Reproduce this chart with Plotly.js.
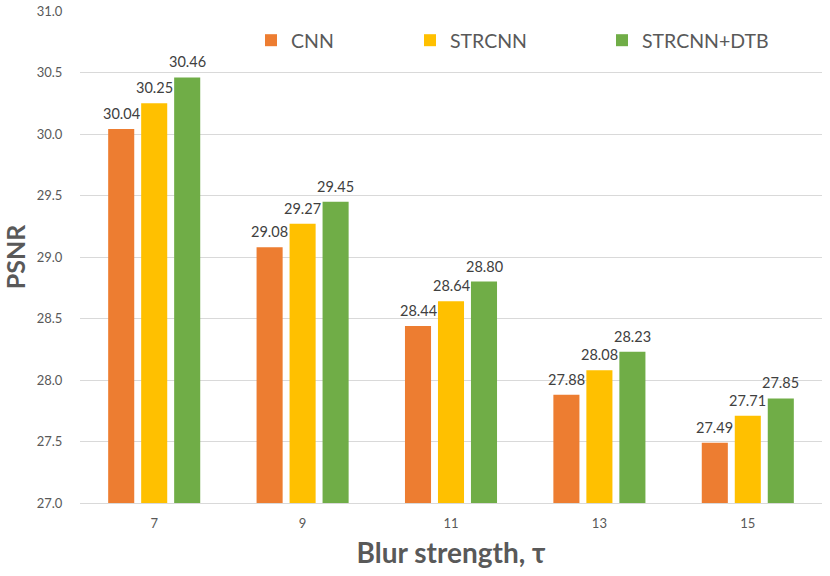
<!DOCTYPE html>
<html><head><meta charset="utf-8">
<script src="https://cdn.plot.ly/plotly-3.0.1.min.js"></script>
<style>body{margin:0;background:#fff}#c{width:830px;height:576px}</style>
</head><body><div id="c"></div>
<script>
const categories = ['7','9','11','13','15'];
const cnn = [30.04, 29.08, 28.44, 27.88, 27.49];
const strcnn = [30.25, 29.27, 28.64, 28.08, 27.71];
const strcnnDtb = [30.46, 29.45, 28.80, 28.23, 27.85];
const names = ['CNN','STRCNN','STRCNN+DTB'];
const colors = ['#ED7D31','#FFC000','#70AD47'];
const series = [cnn, strcnn, strcnnDtb];
const legends = ['legend','legend2','legend3'];
const F = 'Lato, "Open Sans", sans-serif';

const traces = series.map((vals,i)=>({
  type:'bar', x:categories, y:vals, name:names[i],
  marker:{color:colors[i], line:{width:0}},
  legend:legends[i], hoverinfo:'skip'
}));

// value labels above each bar, placed through the axes from the data
// (on a category axis annotations take the category index)
const groupShift = [-33, 0, 33];
const annotations = [];
series.forEach((vals,i)=>vals.forEach((v,j)=>annotations.push({
  x:j, y:v, xref:'x', yref:'y', text:v.toFixed(2), showarrow:false,
  xanchor:'center', yanchor:'bottom', xshift:groupShift[i], yshift:5,
  font:{family:F, size:14.5, color:'#404040'}
})));

const legBase = {orientation:'h', yanchor:'middle', y:0.94, xanchor:'left',
  font:{family:F, size:19.5, color:'#595959'}, bgcolor:'rgba(0,0,0,0)', itemwidth:30};
const layout = {
  width:830, height:576, margin:{l:80, r:8, t:11, b:73},
  paper_bgcolor:'#fff', plot_bgcolor:'#fff',
  barmode:'group', bargap:0.333, bargroupgap:0.21,
  font:{family:F, color:'#595959'},
  annotations:annotations,
  xaxis:{type:'category', tickfont:{family:F, size:13, color:'#595959'},
    ticks:'outside', ticklen:8, tickcolor:'rgba(0,0,0,0)',
    showline:true, linecolor:'#d9d9d9', linewidth:1,
    title:{text:'Blur strength, τ', font:{family:F, size:28, color:'#595959', weight:'bold'}, standoff:13}},
  yaxis:{range:[27,31], dtick:0.5, tickformat:'.1f',
    tickfont:{family:F, size:13, color:'#595959'},
    ticks:'outside', ticklen:14, tickcolor:'rgba(0,0,0,0)',
    gridcolor:'#d9d9d9', gridwidth:1, zeroline:false,
    title:{text:'PSNR', font:{family:F, size:25, color:'#595959', weight:'bold'}, standoff:14}},
  legend:Object.assign({}, legBase, {x:(251-80)/742}),
  legend2:Object.assign({}, legBase, {x:(410-80)/742}),
  legend3:Object.assign({}, legBase, {x:(602-80)/742}),
  showlegend:true
};
Plotly.newPlot('c', traces, layout, {displayModeBar:false, staticPlot:true});
</script></body></html>
